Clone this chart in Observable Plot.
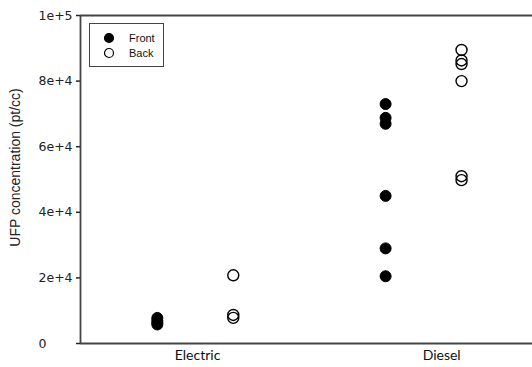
<!DOCTYPE html>
<html>
<head>
<meta charset="utf-8">
<script src="https://cdn.jsdelivr.net/npm/d3@7"></script>
<script src="https://cdn.jsdelivr.net/npm/@observablehq/plot@0.6"></script>
<style>
  html, body { margin: 0; padding: 0; background: #fff; }
  #wrap { position: relative; width: 532px; height: 367px; }
  #legend { position: absolute; left: 89px; top: 23px; width: 75px; height: 44px; border: 1px solid #444; box-sizing: border-box; background: #fff;
    font-family: "Liberation Sans", Arial, sans-serif; font-size: 11px; color: #111; }
  #legend .row { position: absolute; left: 0; height: 14px; line-height: 14px; }
  #legend svg { position: absolute; left: 13px; top: 1px; }
  #legend span { position: absolute; left: 39px; top: 0; }
</style>
</head>
<body>
<div id="wrap"></div>
<script>
// Categories and their positions on a simple 0–10 horizontal axis
const categories = ["Electric", "Diesel"];
const categoryLabelPos = [2.59, 7.99];
const frontPos = [1.70, 6.75];
const backPos = [3.38, 8.43];

// UFP concentration values (pt/cc)
const electricFront = [7800, 7000, 6300, 5800];
const electricBack = [20800, 8700, 7800];
const dieselFront = [73000, 68800, 67000, 45000, 29000, 20500];
const dieselBack = [89500, 86300, 85200, 80000, 51000, 49800];

const yTicks = [0, 20000, 40000, 60000, 80000, 100000];

const rows = [];
electricFront.forEach(v => rows.push({cat: "Electric", pos: "Front", x: frontPos[0], y: v}));
electricBack.forEach(v => rows.push({cat: "Electric", pos: "Back", x: backPos[0], y: v}));
dieselFront.forEach(v => rows.push({cat: "Diesel", pos: "Front", x: frontPos[1], y: v}));
dieselBack.forEach(v => rows.push({cat: "Diesel", pos: "Back", x: backPos[1], y: v}));

const fmt = d => d === 0 ? "0" : d3.format(".0e")(d);

const chart = Plot.plot({
  width: 532,
  height: 367,
  marginLeft: 80,
  marginRight: 0,
  marginTop: 15,
  marginBottom: 24,
  style: {fontFamily: "'Liberation Sans', Arial, sans-serif", fontSize: "12px", color: "#222", background: "#fff"},
  x: {domain: [0, 10], axis: null},
  y: {domain: [0, 100000]},
  marks: [
    Plot.axisY({ticks: yTicks, tickFormat: () => "", tickSize: 4, label: null, strokeWidth: 1.5}),
    Plot.text(yTicks, {y: d => d, text: fmt, frameAnchor: "left", textAnchor: "start", dx: -42,
      fontSize: 12.5, fontFamily: "'DejaVu Sans', sans-serif", fill: "#222"}),
    Plot.text(["UFP concentration (pt/cc)"], {frameAnchor: "left", textAnchor: "middle", dx: -65, dy: -12, rotate: -90, fontSize: 14,
      fill: "#222"}),
    Plot.ruleY([0, 100000], {stroke: "#444", strokeWidth: 1.8}),
    Plot.ruleX([0], {stroke: "#444", strokeWidth: 1.8}),
    Plot.text(categories, {x: (d, i) => categoryLabelPos[i], frameAnchor: "bottom", dy: 16, text: d => d,
      fontFamily: "Lato, 'Open Sans', sans-serif", fontSize: 14, fill: "#111"}),
    Plot.dot(rows.filter(d => d.pos === "Front"), {x: "x", y: "y", r: 5.5, fill: "#000", stroke: "#000", strokeWidth: 1}),
    Plot.dot(rows.filter(d => d.pos === "Back"), {x: "x", y: "y", r: 5.5, fill: "none", stroke: "#000", strokeWidth: 1.4})
  ]
});

const wrap = document.getElementById("wrap");
wrap.appendChild(chart);

const legendItems = [{name: "Front", fill: "#000"}, {name: "Back", fill: "none"}];
const leg = document.createElement("div");
leg.id = "legend";
legendItems.forEach((it, i) => {
  const row = document.createElement("div");
  row.className = "row";
  row.style.top = (7 + i * 15) + "px";
  row.style.width = "72px";
  row.innerHTML = `<svg width="12" height="12"><circle cx="6" cy="6" r="4.5" fill="${it.fill}" stroke="#000" stroke-width="1.2"/></svg><span>${it.name}</span>`;
  leg.appendChild(row);
});
wrap.appendChild(leg);
</script>
</body>
</html>
